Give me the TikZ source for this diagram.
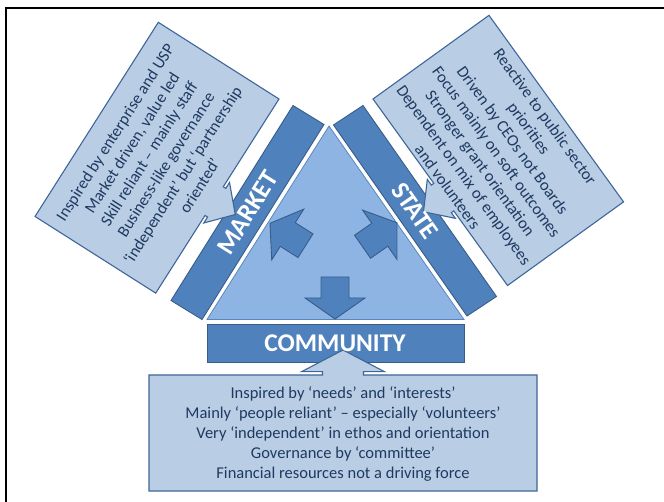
\documentclass[tikz,border=0pt]{standalone}
\usepackage{fontspec}
\setmainfont{Carlito}
\usetikzlibrary{calc}

\definecolor{barblue}{HTML}{4F81BD}
\definecolor{baredge}{HTML}{385D8A}
\definecolor{trifill}{HTML}{8EB4E3}
\definecolor{triedge}{HTML}{5A86BF}
\definecolor{notefill}{HTML}{B9CDE5}
\definecolor{noteedge}{HTML}{3F6699}
\definecolor{notetext}{HTML}{1F3A60}

\tikzset{
  bar/.style={fill=barblue, draw=baredge, line width=0.9pt, line join=miter},
  tri/.style={fill=trifill, draw=triedge, line width=0.8pt, line join=miter},
  note/.style={fill=notefill, draw=noteedge, line width=1.1pt, line join=miter},
  blockarrow/.style={fill=barblue, draw=baredge, line width=0.9pt, line join=miter},
  notetxt/.style={text=notetext, align=center, inner sep=0pt,
                  font=\fontsize{16.5}{20}\selectfont},
  bartxt/.style={text=white, inner sep=0pt,
                 font=\fontsize{26}{30}\selectfont\bfseries},
}

\begin{document}
\begin{tikzpicture}[x=1pt,y=-1pt]
  \useasboundingbox (0,0) rectangle (664,502);

  % page frame
  \draw[line width=2pt] (6,502) -- (6,7.7) -- (664,7.7);

  % central triangle
  \coordinate (apex) at (329,126);
  \coordinate (baseL) at (207,319.5);
  \coordinate (baseR) at (464,319.5);
  \path[tri] (apex) -- (baseL) -- (baseR) -- cycle;

  % side bars
  \coordinate (mIT) at (324,124.5);   \coordinate (mIB) at (202,319.5);
  \coordinate (mOT) at (293,105.5);   \coordinate (mOB) at (171,300.5);
  \path[bar] (mIT) -- (mIB) -- (mOB) -- (mOT) -- cycle;

  \coordinate (sIT) at (333.5,125);   \coordinate (sIB) at (467,316);
  \coordinate (sOT) at (363,105.5);   \coordinate (sOB) at (496.5,296.5);
  \path[bar] (sIT) -- (sIB) -- (sOB) -- (sOT) -- cycle;

  % bottom bar
  \path[bar] (207,324) rectangle (464,362);

  % block arrows inside the triangle
  \path[blockarrow] (335,319) -- (365,298) -- (349,298) -- (349,277)
        -- (321,277) -- (321,298) -- (305,298) -- cycle;
  \begin{scope}[shift={(270pt,-223.3pt)}, x={(0.845pt,-0.534pt)}, y={(-0.534pt,-0.845pt)}]
    \path[blockarrow] (0,0) -- (21,30) -- (21,14) -- (42,14) -- (42,-14)
          -- (21,-14) -- (21,-30) -- cycle;
  \end{scope}
  \begin{scope}[shift={(397pt,-222.7pt)}, x={(-0.820pt,-0.573pt)}, y={(0.573pt,-0.820pt)}]
    \path[blockarrow] (0,0) -- (21,30) -- (21,14) -- (42,14) -- (42,-14)
          -- (21,-14) -- (21,-30) -- cycle;
  \end{scope}

  % market note (s along the edge facing the bar, o towards the bar)
  \begin{scope}[shift={(279pt,-99pt)}, x={(-0.536pt,-0.844pt)}, y={(0.844pt,-0.536pt)}]
    \path[note] (0,0) -- (104,0) -- (104,3) -- (97,3) -- (121,25) -- (145,3)
          -- (138,3) -- (138,0) -- (230,0) -- (230,-143) -- (0,-143) -- cycle;
    \node[notetxt, rotate=57.6] (marketnote) at (116,-70.5)
      {Inspired by enterprise and USP\\Market driven, value led\\Skill reliant – mainly staff\\Business-like governance\\‘independent’ but ‘partnership\\oriented’};
  \end{scope}

  % state note
  \begin{scope}[shift={(373pt,-99pt)}, x={(0.585pt,-0.811pt)}, y={(-0.811pt,-0.585pt)}]
    \path[note] (0,0) -- (104,0) -- (104,3) -- (97,3) -- (121,25) -- (145,3)
          -- (138,3) -- (138,0) -- (230,0) -- (230,-143) -- (0,-143) -- cycle;
    \node[notetxt, rotate=-54.2] (statenote) at (115,-69.5)
      {Reactive to public sector\\priorities\\Driven by CEOs not Boards\\Focus mainly on soft outcomes\\Stronger grant orientation\\Dependent on mix of employees\\and volunteers};
  \end{scope}

  % community note
  \path[note] (149,375) -- (322.5,375) -- (322.5,371.7) -- (301.5,371.7) -- (343,350)
        -- (384.5,371.7) -- (363.5,371.7) -- (363.5,375) -- (537,375)
        -- (537,491) -- (149,491) -- cycle;
  \node[notetxt] (communitynote) at (343,434)
    {Inspired by ‘needs’ and ‘interests’\\Mainly ‘people reliant’ – especially ‘volunteers’\\Very ‘independent’ in ethos and orientation\\Governance by ‘committee’\\Financial resources not a driving force};

  % bar labels
  \node[bartxt, rotate=58.0] (market) at ($(mIT)!0.5!(mOB)$) {MARKET};
  \node[bartxt, rotate=-55.0] (state) at ($(sIT)!0.5!(sOB)$) {STATE};
  \node[bartxt, font=\fontsize{25.5}{30}\selectfont\bfseries] (community) at (335,343) {COMMUNITY};
\end{tikzpicture}
\end{document}
